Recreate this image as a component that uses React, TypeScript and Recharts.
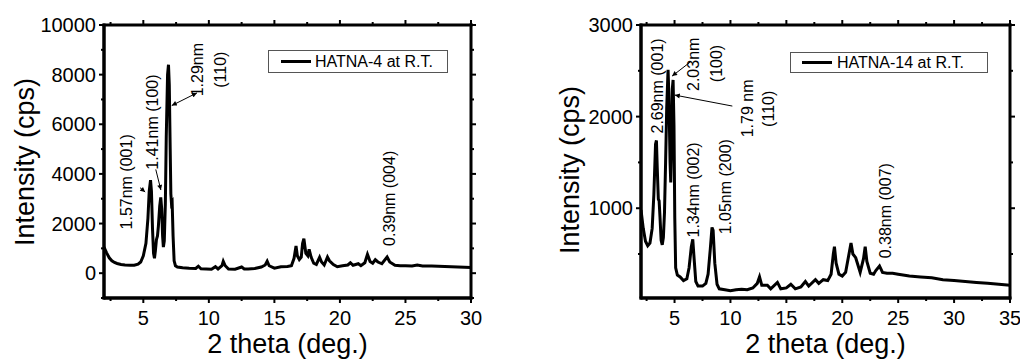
import { LineChart, Line, XAxis, YAxis, ReferenceDot, ReferenceLine } from 'recharts'

const FONT = 'Arial, "Liberation Sans", sans-serif'

// HATNA-4 at room temperature
const theta4 = [
  2.0, 2.2, 2.4, 2.6, 2.8, 3.0, 3.3, 3.6, 4.0, 4.3, 4.6, 4.8, 5.0, 5.2, 5.35, 5.45, 5.55, 5.62, 5.7, 5.78,
  5.85, 5.92, 6.0, 6.08, 6.15, 6.25, 6.33, 6.4, 6.47, 6.53, 6.6, 6.68, 6.75, 6.85, 6.92, 6.98, 7.05, 7.1, 7.15, 7.2,
  7.27, 7.35, 7.45, 7.6, 8.0, 8.5, 9.0, 9.2, 9.4, 9.8, 10.2, 10.5, 10.7, 11.0, 11.1, 11.25, 11.5, 12.0, 12.5, 12.7,
  13.0, 13.5, 14.0, 14.3, 14.45, 14.6, 15.0, 15.5, 16.0, 16.3, 16.5, 16.65, 16.75, 16.9, 17.05, 17.15, 17.25, 17.4, 17.55, 17.65,
  17.8, 18.0, 18.2, 18.45, 18.6, 18.8, 19.05, 19.2, 19.5, 19.8, 20.2, 20.6, 20.8, 21.0, 21.4, 21.6, 21.9, 22.1, 22.3, 22.5,
  22.7, 22.9, 23.2, 23.6, 23.8, 24.2, 24.6, 25.0, 25.5, 25.9, 26.3, 27.0, 28.0, 29.0, 30.0,
]
const counts4 = [
  1050, 820, 620, 500, 430, 390, 350, 330, 320, 320, 360, 450, 700, 1200, 2200, 3300, 3750, 3300, 1800, 800,
  600, 900, 1350, 1500, 1900, 2700, 3050, 2600, 1500, 1050, 1300, 2800, 5500, 8000, 8400, 7600, 5000, 3200, 2800, 2850,
  1500, 500, 300, 250, 220, 200, 190, 280, 180, 170, 160, 260, 170, 300, 480, 300, 170, 160, 250, 170,
  170, 190, 250, 330, 480, 300, 200, 260, 270, 300, 600, 1100, 700, 550, 650, 1200, 1390, 800, 700, 960,
  650, 400, 350, 640, 450, 330, 650, 500, 350, 260, 300, 330, 420, 320, 380, 300, 420, 760, 470, 400,
  540, 450, 380, 650, 450, 320, 300, 300, 290, 330, 290, 290, 270, 250, 230,
]

// HATNA-14 at room temperature
const theta14 = [
  2.0, 2.2, 2.4, 2.6, 2.8, 3.0, 3.15, 3.3, 3.38, 3.45, 3.55, 3.62, 3.7, 3.8, 3.9, 4.0, 4.1, 4.2, 4.3, 4.42,
  4.5, 4.6, 4.66, 4.72, 4.8, 4.87, 4.95, 5.02, 5.1, 5.25, 5.5, 5.8, 6.1, 6.3, 6.5, 6.63, 6.75, 6.9, 7.1, 7.5,
  7.8, 8.0, 8.2, 8.35, 8.45, 8.6, 8.8, 9.0, 9.5, 10.0, 10.5, 11.0, 11.5, 12.0, 12.4, 12.6, 12.8, 13.3, 13.6, 14.2,
  14.5, 15.0, 15.4, 15.8, 16.3, 16.7, 17.0, 17.6, 17.9, 18.3, 18.7, 19.0, 19.2, 19.3, 19.45, 19.7, 20.0, 20.3, 20.6, 20.78,
  20.95, 21.2, 21.4, 21.6, 21.9, 22.05, 22.2, 22.5, 22.8, 23.0, 23.33, 23.6, 24.0, 24.5, 25.0, 26.0, 27.0, 28.0, 29.0, 30.0,
  31.0, 32.0, 33.0, 34.0, 35.0,
]
const counts14 = [
  980, 780, 640, 590, 620, 780, 1150, 1700, 1740, 1450, 1100, 1080, 900, 650, 600, 680, 950, 1500, 2100, 2510,
  2200, 1500, 1280, 1600, 2300, 2400, 1900, 900, 350, 270, 250, 210, 230, 350, 580, 660, 450, 200, 150, 150,
  180, 280, 560, 790, 760, 400, 170, 120, 110, 100, 110, 115, 110, 130, 180, 250, 160, 160, 120, 190,
  120, 130, 170, 120, 140, 200, 150, 220, 180, 220, 210, 280, 500, 580, 400, 280, 260, 300, 500, 620,
  500, 460, 380, 300, 450, 580, 420, 290, 280, 320, 370, 300, 290, 290, 280, 260, 250, 240, 220, 210,
  200, 190, 180, 170, 160,
]

const xTicks4 = [2.5, 5, 7.5, 10, 12.5, 15, 17.5, 20, 22.5, 25, 27.5, 30]
const yTicks4 = [-1000, 0, 1000, 2000, 3000, 4000, 5000, 6000, 7000, 8000, 9000, 10000]
const xTicks14 = [2.5, 5, 7.5, 10, 12.5, 15, 17.5, 20, 22.5, 25, 27.5, 30, 32.5, 35]
const yTicks14 = [500, 1000, 1500, 2000, 2500, 3000]

const notes4 = [
  { x: 3.7, y: 3680, text: '1.57nm (001)' },
  { x: 5.65, y: 6090, text: '1.41nm (100)' },
  { x: 9.14, y: 8200, text: '1.29nm' },
  { x: 10.88, y: 8200, text: '(110)' },
  { x: 23.76, y: 3015, text: '0.39nm (004)' },
]
const arrows4 = [
  { x1: 4.75, y1: 3445, x2: 5.14, y2: 3268, both: false },
  { x1: 5.95, y1: 4180, x2: 6.34, y2: 3350, both: false },
  { x1: 9.09, y1: 7264, x2: 7.17, y2: 6754, both: true },
]

const notes14 = [
  { x: 3.43, y: 2335, text: '2.69nm (001)' },
  { x: 6.72, y: 2571, text: '2.03nm' },
  { x: 8.73, y: 2580, text: '(100)' },
  { x: 11.51, y: 2090, text: '1.79 nm' },
  { x: 13.36, y: 2085, text: '(110)' },
  { x: 6.72, y: 1200, text: '1.34nm (002)' },
  { x: 9.57, y: 1235, text: '1.05nm (200)' },
  { x: 23.84, y: 973, text: '0.38nm (007)' },
]
const arrows14 = [
  { x1: 6.43, y1: 2598, x2: 4.78, y2: 2442, both: false },
  { x1: 10.17, y1: 2115, x2: 5.02, y2: 2235, both: false },
]

// x ticks: bottom tick + mirrored top tick (plot height above), labels on multiples of 5
function makeXTick(plotH: number) {
  return (props: any) => {
    const { x, y, payload } = props
    const v = payload.value
    const major = v % 5 === 0
    const len = major ? 5 : 3
    const top = y - plotH
    return (
      <g>
        <line x1={x} y1={y} x2={x} y2={y + len} stroke="#000" strokeWidth={2} />
        <line x1={x} y1={top} x2={x} y2={top - len} stroke="#000" strokeWidth={2} />
        {major && (
          <text x={x} y={y + 27} textAnchor="middle" fontSize={20} fontFamily={FONT} fill="#000">
            {v}
          </text>
        )}
      </g>
    )
  }
}

// y ticks: left tick + mirrored right tick (plot width to the right)
function makeYTick(plotW: number, isMajor: (v: number) => boolean) {
  return (props: any) => {
    const { x, y, payload } = props
    const v = payload.value
    const major = isMajor(v)
    const len = major ? 5 : 3
    const right = x + plotW
    return (
      <g>
        <line x1={x} y1={y} x2={x - len} y2={y} stroke="#000" strokeWidth={2} />
        <line x1={right} y1={y} x2={right + len} y2={y} stroke="#000" strokeWidth={2} />
        {major && (
          <text x={x - 8} y={y + 7} textAnchor="end" fontSize={20} fontFamily={FONT} fill="#000">
            {v}
          </text>
        )}
      </g>
    )
  }
}

const FRAME = { stroke: '#000', strokeWidth: 3 }

const buildPanel = (
  name: string,
  xs: number[],
  ys: number[],
  xDomain: [number, number],
  yDomain: [number, number],
  xTicks: number[],
  yTicks: number[],
  yMajor: (v: number) => boolean,
  yAxisWidth: number,
  rightMargin: number,
  notes: { x: number; y: number; text: string }[],
  arrows: { x1: number; y1: number; x2: number; y2: number; both: boolean }[],
  titleY: number,
  legend: { left: number; top: number; width: number; height: number; pad: number; gap: number },
) => {
  const plotW = 500 - yAxisWidth - rightMargin
  const plotH = 359 - 25 - 61
  const [x0, x1] = xDomain
  const [y0, y1] = yDomain
  return {
    name,
    rows: xs.map((x, i) => ({ x, y: ys[i] })),
    xDomain,
    yDomain,
    xTicks,
    yTicks,
    yAxisWidth,
    margin: { top: 25, right: rightMargin, bottom: 0, left: 0 },
    tickX: makeXTick(plotH),
    tickY: makeYTick(plotW, yMajor),
    edges: [
      [{ x: x0, y: y1 }, { x: x1, y: y1 }],
      [{ x: x1, y: y0 }, { x: x1, y: y1 }],
      [{ x: x0, y: y0 }, { x: x0, y: y1 }],
      [{ x: x0, y: y0 }, { x: x1, y: y0 }],
    ],
    notes: notes.map((n) => ({
      x: n.x,
      y: n.y,
      label: { value: n.text, position: 'center' as const, angle: -90, fontSize: 16, fontFamily: FONT, fill: '#000' },
    })),
    arrows: arrows.map((a) => ({
      segment: [
        { x: a.x1, y: a.y1 },
        { x: a.x2, y: a.y2 },
      ],
      both: a.both,
    })),
    titleX: yAxisWidth + plotW / 2,
    titleY,
    legend,
  }
}

const panels = [
  buildPanel(
    'HATNA-4 at R.T.', theta4, counts4, [2, 30], [-1000, 10000], xTicks4, yTicks4,
    (v) => v >= 0 && v % 2000 === 0, 104, 29, notes4, arrows4, 25,
    { left: 268, top: 50, width: 180, height: 23, pad: 12, gap: 4 },
  ),
  buildPanel(
    'HATNA-14 at R.T.', theta14, counts14, [2, 35], [20, 3000], xTicks14, yTicks14,
    (v) => v % 1000 === 0, 121, 10, notes14, arrows14, 50,
    { left: 270, top: 52, width: 198, height: 21, pad: 11, gap: 5 },
  ),
]

const yTitleCenter = [162, 170]

function Panel({ p, idx }: { p: (typeof panels)[number]; idx: number }) {
  return (
    <div style={{ position: 'relative', width: 500, height: 359 }}>
      <LineChart width={500} height={359} data={p.rows} margin={p.margin}>
        <XAxis
          xAxisId="b"
          dataKey="x"
          type="number"
          domain={p.xDomain}
          allowDataOverflow
          ticks={p.xTicks}
          interval={0}
          height={61}
          tickSize={0}
          tickMargin={0}
          tickLine={false}
          axisLine={FRAME}
          tick={p.tickX}
        />
        <YAxis
          yAxisId="l"
          type="number"
          domain={p.yDomain}
          allowDataOverflow
          ticks={p.yTicks}
          interval={0}
          width={p.yAxisWidth}
          tickSize={0}
          tickMargin={0}
          tickLine={false}
          axisLine={FRAME}
          tick={p.tickY}
        />
        <Line xAxisId="b" yAxisId="l" dataKey="y" stroke="#000" strokeWidth={3} dot={false} isAnimationActive={false} />
        {p.edges.map((seg, i) => (
          <ReferenceLine key={'e' + i} xAxisId="b" yAxisId="l" segment={seg} stroke="#000" strokeWidth={3} strokeLinecap="square" />
        ))}
        {p.arrows.map((a, i) => (
          <ReferenceLine
            key={'a' + i}
            xAxisId="b"
            yAxisId="l"
            segment={a.segment}
            stroke="#000"
            strokeWidth={1}
            markerEnd="url(#xrd-head)"
            markerStart={a.both ? 'url(#xrd-head)' : undefined}
          />
        ))}
        {p.notes.map((n, i) => (
          <ReferenceDot key={'n' + i} xAxisId="b" yAxisId="l" x={n.x} y={n.y} r={1} fill="none" stroke="none" label={n.label} />
        ))}
      </LineChart>
      <div
        style={{
          position: 'absolute',
          left: p.titleY,
          top: yTitleCenter[idx],
          transform: 'translate(-50%, -50%) rotate(-90deg)',
          fontFamily: FONT,
          fontSize: 27,
          lineHeight: '27px',
          whiteSpace: 'nowrap',
          color: '#000',
        }}
      >
        Intensity (cps)
      </div>
      <div
        style={{
          position: 'absolute',
          left: p.titleX,
          top: 331,
          transform: 'translateX(-50%)',
          fontFamily: FONT,
          fontSize: 27,
          lineHeight: '27px',
          whiteSpace: 'nowrap',
          color: '#000',
        }}
      >
        2 theta (deg.)
      </div>
      <div
        style={{
          position: 'absolute',
          left: p.legend.left,
          top: p.legend.top,
          width: p.legend.width,
          height: p.legend.height,
          boxSizing: 'border-box',
          border: '1px solid #555',
          background: '#fff',
          display: 'flex',
          alignItems: 'center',
          fontFamily: FONT,
          fontSize: 16,
          color: '#000',
          whiteSpace: 'nowrap',
        }}
      >
        <div style={{ width: 30, height: 3, background: '#000', marginLeft: p.legend.pad, marginRight: p.legend.gap }} />
        <span>{p.name}</span>
      </div>
    </div>
  )
}

export default function App() {
  return (
    <div style={{ position: 'absolute', left: 0, top: 0, width: 1020, height: 359, background: '#fff', display: 'flex', gap: 20 }}>
      <svg width={0} height={0} style={{ position: 'absolute' }}>
        <defs>
          <marker
            id="xrd-head"
            viewBox="0 0 10 10"
            refX={10}
            refY={5}
            markerWidth={7}
            markerHeight={5}
            markerUnits="userSpaceOnUse"
            orient="auto-start-reverse"
          >
            <path d="M0,0 L10,5 L0,10 z" fill="#000" />
          </marker>
        </defs>
      </svg>
      <Panel p={panels[0]} idx={0} />
      <Panel p={panels[1]} idx={1} />
    </div>
  )
}
